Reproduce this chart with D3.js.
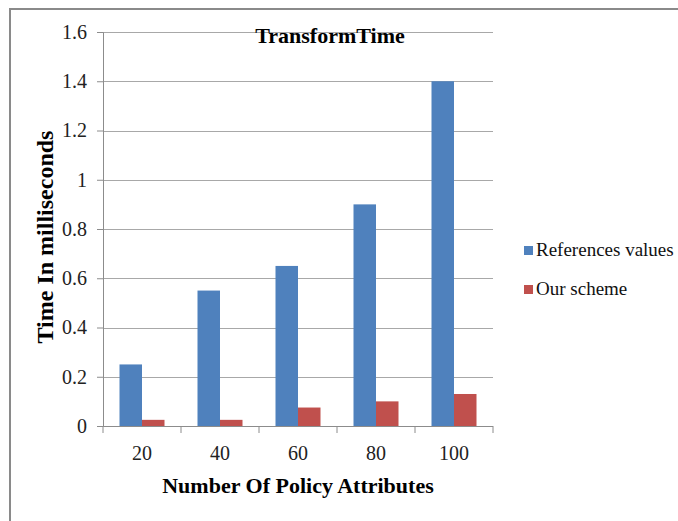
<!DOCTYPE html>
<html lang="en">
<head>
<meta charset="utf-8">
<title>TransformTime</title>
<script src="https://d3js.org/d3.v7.min.js"></script>
<style>
body { margin: 0; background: #fff; }
svg { display: block; font-family: "Liberation Serif", "Times New Roman", serif; }
.grid line { stroke: #a8a8a8; stroke-width: 1; }
.axis path, .axis line { stroke: #8c8c8c; }
</style>
</head>
<body>
<script>

// chart data
var categories = ["20", "40", "60", "80", "100"];
var seriesNames = ["References values", "Our scheme"];
var refValues = [0.25, 0.55, 0.65, 0.9, 1.4];
var ourValues = [0.025, 0.025, 0.075, 0.1, 0.13];
var yTicks = [0, 0.2, 0.4, 0.6, 0.8, 1, 1.2, 1.4, 1.6];
var colors = ["#4f81bd", "#c0504d"];

var width = 678, height = 521;
var plotLeft = 103, plotRight = 493, plotTop = 32, plotBottom = 426;

var svg = d3.select("body").append("svg")
  .attr("width", width)
  .attr("height", height);

// outer frame (only top and left visible in the crop)
svg.append("rect")
  .attr("x", 10).attr("y", 9)
  .attr("width", 800).attr("height", 700)
  .attr("fill", "none")
  .attr("stroke", "#8a8a8a")
  .attr("stroke-width", 2);

var x = d3.scaleBand().domain(categories).range([plotLeft, plotRight]).padding(0);
var x1 = d3.scaleBand().domain(seriesNames)
  .range([16.5, x.bandwidth() - 16.5]).padding(0);
var y = d3.scaleLinear().domain([0, 1.6]).range([plotBottom, plotTop]);

// gridlines
svg.append("g").attr("class", "grid")
  .selectAll("line")
  .data(yTicks.slice(1))
  .enter().append("line")
  .attr("x1", plotLeft).attr("x2", plotRight)
  .attr("y1", function(d) { return Math.round(y(d)) + 0.5; })
  .attr("y2", function(d) { return Math.round(y(d)) + 0.5; });

// bars
var rows = categories.map(function(c, i) {
  return { cat: c, vals: [refValues[i], ourValues[i]] };
});

var groups = svg.selectAll(".grp")
  .data(rows)
  .enter().append("g")
  .attr("class", "grp")
  .attr("transform", function(d) { return "translate(" + x(d.cat) + ",0)"; });

groups.selectAll("rect")
  .data(function(d) { return d.vals.map(function(v, j) { return { s: seriesNames[j], v: v, j: j }; }); })
  .enter().append("rect")
  .attr("x", function(d) { return x1(d.s); })
  .attr("width", x1.bandwidth())
  .attr("y", function(d) { return y(d.v); })
  .attr("height", function(d) { return y(0) - y(d.v); })
  .attr("fill", function(d) { return colors[d.j]; });

// y axis
var yAxis = svg.append("g").attr("class", "axis")
  .attr("transform", "translate(" + plotLeft + ",0)")
  .call(d3.axisLeft(y).tickValues(yTicks).tickSize(6).tickPadding(10)
    .tickFormat(function(d) { return String(d); }));
yAxis.selectAll("text")
  .attr("font-size", 20).attr("fill", "#222")
  .attr("font-family", "Liberation Serif");

// x axis: labels from the band scale, ticks at band edges
var xAxis = svg.append("g").attr("class", "axis")
  .attr("transform", "translate(0," + plotBottom + ")")
  .call(d3.axisBottom(x).tickSize(0).tickPadding(20));
xAxis.select(".domain").remove();
xAxis.selectAll("text")
  .attr("font-size", 20).attr("fill", "#222")
  .attr("font-family", "Liberation Serif");

var edges = categories.map(function(c) { return x(c); }).concat([x.range()[1]]);
svg.append("g").attr("class", "axis")
  .selectAll("line")
  .data(edges)
  .enter().append("line")
  .attr("x1", function(d) { return d; }).attr("x2", function(d) { return d; })
  .attr("y1", plotBottom).attr("y2", plotBottom + 7);
svg.append("line")
  .attr("x1", plotLeft).attr("x2", plotRight)
  .attr("y1", plotBottom + 0.5).attr("y2", plotBottom + 0.5)
  .attr("stroke", "#8c8c8c");

// title and axis titles
svg.append("text")
  .attr("x", 330).attr("y", 43)
  .attr("text-anchor", "middle")
  .attr("font-size", 22).attr("font-weight", "bold")
  .text("TransformTime");

svg.append("text")
  .attr("x", 298).attr("y", 493)
  .attr("text-anchor", "middle")
  .attr("font-size", 22).attr("font-weight", "bold")
  .text("Number Of Policy Attributes");

svg.append("text")
  .attr("transform", "translate(53,237) rotate(-90)")
  .attr("text-anchor", "middle")
  .attr("font-size", 24).attr("font-weight", "bold")
  .text("Time In milliseconds");

// legend
var legend = svg.selectAll(".legend")
  .data(seriesNames)
  .enter().append("g")
  .attr("class", "legend")
  .attr("transform", function(d, i) { return "translate(524," + (246 + i * 39) + ")"; });

legend.append("rect")
  .attr("width", 9).attr("height", 9)
  .attr("fill", function(d, i) { return colors[i]; });

legend.append("text")
  .attr("x", 12).attr("y", 10)
  .attr("font-size", 19).attr("fill", "#111")
  .text(function(d) { return d; });

</script>
</body>
</html>
